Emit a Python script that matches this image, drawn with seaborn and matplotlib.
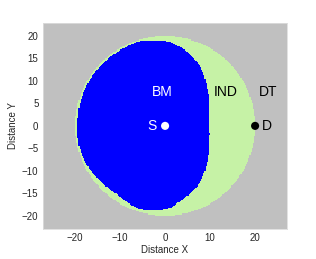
import numpy as np
import matplotlib
matplotlib.use("Agg")
import matplotlib.pyplot as plt
from matplotlib.colors import ListedColormap
import seaborn as sns
import pandas as pd

# ---- data ----
region_names = ["DT", "IND", "BM"]
region_colors = ["#c0c0c0", "#c6f2a6", "#0000ff"]
ind_radius = 20.0            # outer (IND) disc radius around S
# outline of the BM region, (x, y), clockwise from top-left
bm_outline_x = [-5.6, 1.1, 4.4, 6.7, 8.2, 8.9, 9.4, 9.6, 9.7, 9.6, 9.2, 8.5, 7.4, 5.2, 2.5, 1.3,
                -5.9, -10.6, -13.6, -17.5, -19.2, -19.4, -19.2, -18.0, -15.6, -10.2]
bm_outline_y = [18.9, 18.7, 16.9, 14.7, 12.4, 10.2, 8.0, 3.6, 0.0, -4.2, -8.7, -10.9, -13.1, -15.3, -17.3, -18.3,
                -18.5, -15.2, -13.0, -8.5, -4.2, 0.0, 3.5, 7.8, 11.9, 16.7]
point_names = ["S", "D"]
point_x = [0.0, 20.0]
point_y = [0.0, 0.0]
point_colors = ["white", "black"]
label_text = ["BM", "IND", "DT"]
label_x = [-0.6, 13.4, 23.0]
label_y = [7.6, 7.6, 7.6]

# ---- outline as a smooth closed curve r(theta) ----
ox = np.array(bm_outline_x)
oy = np.array(bm_outline_y)
oth = np.arctan2(oy, ox)
orr = np.hypot(ox, oy)
srt = np.argsort(oth)
oth, orr = oth[srt], orr[srt]
oth_ext = np.concatenate([oth - 2 * np.pi, oth, oth + 2 * np.pi])
orr_ext = np.concatenate([orr, orr, orr])
th_fine = np.linspace(-np.pi, np.pi, 721)[:-1]
r_fine = np.interp(th_fine, oth_ext, orr_ext)
win = 13
kernel = np.ones(win) / win
r_pad = np.concatenate([r_fine[-win:], r_fine, r_fine[:win]])
r_smooth = np.convolve(r_pad, kernel, mode="same")[win:-win]

# ---- grid of regions ----
step = 0.25
xs = np.arange(-28, 28 + step, step)
ys = np.arange(-24, 24 + step, step)
xc = (xs[:-1] + xs[1:]) / 2
yc = (ys[:-1] + ys[1:]) / 2
X, Y = np.meshgrid(xc, yc)
R = np.hypot(X, Y)
TH = np.arctan2(Y, X)
th_ext = np.concatenate([th_fine - 2 * np.pi, th_fine, th_fine + 2 * np.pi])
rs_ext = np.concatenate([r_smooth, r_smooth, r_smooth])
r_bm = np.interp(TH, th_ext, rs_ext)
Z = np.zeros_like(X)
Z[R <= ind_radius] = 1
Z[R <= r_bm] = 2

sns.set_style("white")
plt.rcParams['font.family'] = ['Liberation Sans', 'DejaVu Sans']

fig = plt.figure(figsize=(3.16, 2.59), dpi=100)
ax = fig.add_axes([0.135, 0.115, 0.772, 0.798])
ax.pcolormesh(xs, ys, Z, cmap=ListedColormap(region_colors), vmin=-0.5, vmax=2.5,
              shading="flat", rasterized=True)

pts = pd.DataFrame({"x": point_x, "y": point_y, "name": point_names})
sns.scatterplot(data=pts, x="x", y="y", hue="name", palette=dict(zip(point_names, point_colors)),
                s=34, edgecolor="none", legend=False, ax=ax, zorder=5)
ax.text(point_x[0] - 2.0, point_y[0], "S", color="white", fontsize=10, ha="right", va="center")
ax.text(point_x[1] + 1.5, point_y[1], "D", color="black", fontsize=10, ha="left", va="center")
for t, lx, ly, c in zip(label_text, label_x, label_y, ["white", "black", "black"]):
    ax.text(lx, ly, t, color=c, fontsize=10, ha="center", va="center")

ax.set_xlim(-27.2, 27.0)
ax.set_ylim(-23, 23)
ax.set_xticks([-20, -10, 0, 10, 20])
ax.set_yticks([-20, -15, -10, -5, 0, 5, 10, 15, 20])
ax.tick_params(length=0, labelsize=7, pad=3)
ax.set_xlabel("Distance X", fontsize=7, labelpad=1)
ax.set_ylabel("Distance Y", fontsize=7, labelpad=3)
for s in ax.spines.values():
    s.set_color("#dddddd")
    s.set_linewidth(0.6)

fig.savefig("out.png", dpi=100)
